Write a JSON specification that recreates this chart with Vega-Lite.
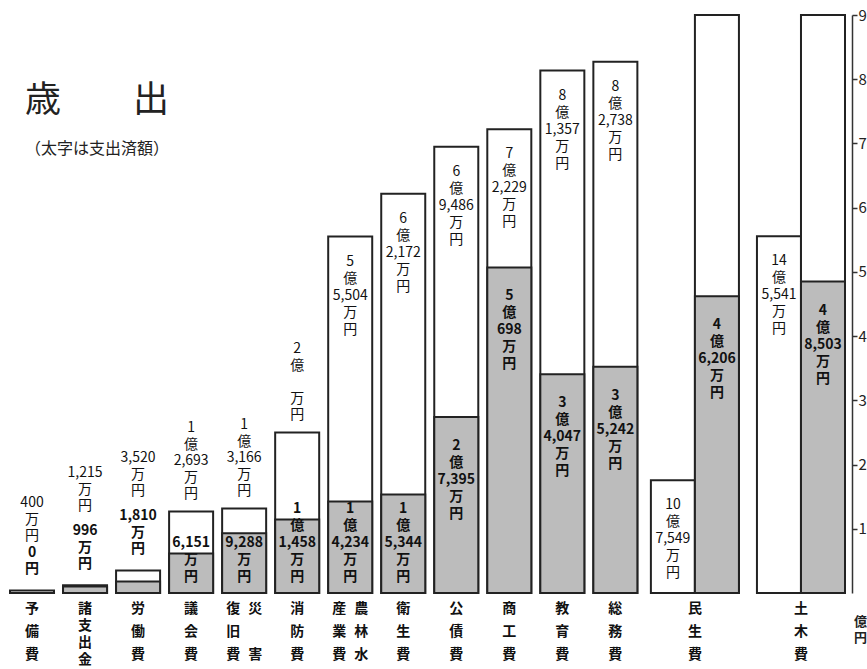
{
  "$schema": "https://vega.github.io/schema/vega-lite/v6.json",
  "width": 852,
  "height": 578,
  "autosize": "none",
  "padding": {"left": 0, "top": 15, "right": 15, "bottom": 76},
  "background": "white",
  "config": {"view": {"stroke": null}, "font": "Noto Sans CJK JP"},
  "title": {
    "text": "歳　　出",
    "subtitle": "（太字は支出済額）",
    "anchor": "start",
    "frame": "group",
    "orient": "top",
    "offset": -143,
    "dx": 25,
    "dy": 7,
    "font": "Noto Sans CJK JP",
    "fontSize": 36,
    "fontWeight": "normal",
    "color": "#222",
    "subtitleFont": "Noto Sans CJK JP",
    "subtitleFontSize": 16,
    "subtitleColor": "#222",
    "subtitlePadding": 21
  },
  "datasets": {
    "cats": [
      {"slot": "予備費", "text": "予備費", "col": "center"},
      {"slot": "諸支出金", "text": "諸支出金", "col": "center"},
      {"slot": "労働費", "text": "労働費", "col": "center"},
      {"slot": "議会費", "text": "議会費", "col": "center"},
      {"slot": "災害復旧費", "text": "災害", "col": "right"},
      {"slot": "災害復旧費", "text": "復旧費", "col": "left"},
      {"slot": "消防費", "text": "消防費", "col": "center"},
      {"slot": "農林水産業費", "text": "農林水", "col": "right"},
      {"slot": "農林水産業費", "text": "産業費", "col": "left"},
      {"slot": "衛生費", "text": "衛生費", "col": "center"},
      {"slot": "公債費", "text": "公債費", "col": "center"},
      {"slot": "商工費", "text": "商工費", "col": "center"},
      {"slot": "教育費", "text": "教育費", "col": "center"},
      {"slot": "総務費", "text": "総務費", "col": "center"},
      {"slot": "民生費(超過分)", "text": "民生費", "col": "pair"},
      {"slot": "土木費(超過分)", "text": "土木費", "col": "pair"}
    ]
  },
  "data": {
    "values": [
      {"slot": "予備費", "kind": "normal", "total": 0.04, "spent": 0, "tlab": "400万円", "slab": "0円"},
      {"slot": "諸支出金", "kind": "normal", "total": 0.1215, "spent": 0.0996, "tlab": "1,215万円", "slab": "996万円"},
      {"slot": "労働費", "kind": "normal", "total": 0.352, "spent": 0.181, "tlab": "3,520万円", "slab": "1,810万円"},
      {"slot": "議会費", "kind": "normal", "total": 1.2693, "spent": 0.6151, "tlab": "1億2,693万円", "slab": "6,151万円"},
      {"slot": "災害復旧費", "kind": "normal", "total": 1.3166, "spent": 0.9288, "tlab": "1億3,166万円", "slab": "9,288万円"},
      {"slot": "消防費", "kind": "normal", "total": 2.5, "spent": 1.1458, "tlab": "2億 万円", "slab": "1億1,458万円"},
      {"slot": "農林水産業費", "kind": "normal", "total": 5.5504, "spent": 1.4234, "tlab": "5億5,504万円", "slab": "1億4,234万円"},
      {"slot": "衛生費", "kind": "normal", "total": 6.2172, "spent": 1.5344, "tlab": "6億2,172万円", "slab": "1億5,344万円"},
      {"slot": "公債費", "kind": "normal", "total": 6.9486, "spent": 2.7395, "tlab": "6億9,486万円", "slab": "2億7,395万円"},
      {"slot": "商工費", "kind": "normal", "total": 7.2229, "spent": 5.0698, "tlab": "7億2,229万円", "slab": "5億698万円"},
      {"slot": "教育費", "kind": "normal", "total": 8.1357, "spent": 3.4047, "tlab": "8億1,357万円", "slab": "3億4,047万円"},
      {"slot": "総務費", "kind": "normal", "total": 8.2738, "spent": 3.5242, "tlab": "8億2,738万円", "slab": "3億5,242万円"},
      {"slot": "民生費(超過分)", "kind": "overflow", "total": 1.7549, "spent": null, "tlab": "10億7,549万円", "slab": null},
      {"slot": "民生費", "kind": "clipped", "total": 10.7549, "spent": 4.6206, "tlab": null, "slab": "4億6,206万円"},
      {"slot": "土木費(超過分)", "kind": "overflow", "total": 5.5541, "spent": null, "tlab": "14億5,541万円", "slab": null},
      {"slot": "土木費", "kind": "clipped", "total": 14.5541, "spent": 4.8503, "tlab": null, "slab": "4億8,503万円"}
    ]
  },
  "encoding": {
    "x": {
      "field": "slot",
      "type": "nominal",
      "axis": null,
      "scale": {
        "domain": ["予備費", "諸支出金", "労働費", "議会費", "災害復旧費", "消防費", "農林水産業費", "衛生費", "公債費", "商工費", "教育費", "総務費", "民生費(超過分)", "民生費", "土木費(超過分)", "土木費"],
        "paddingInner": 0.17,
        "paddingOuter": 0.118,
        "align": 0.8
      }
    }
  },
  "layer": [
    {
      "mark": {"type": "bar", "fill": "white", "stroke": "#222", "strokeWidth": 2, "xOffset": {"expr": "datum.kind == 'overflow' ? 4.5 : datum.kind == 'clipped' ? -4.5 : 0"}},
      "encoding": {
        "y": {
          "field": "total", "type": "quantitative",
          "scale": {"domain": [0, 9], "clamp": true, "nice": false},
          "axis": {
            "orient": "right", "values": [1, 2, 3, 4, 5, 6, 7, 8, 9], "grid": false,
            "domainColor": "#333", "domainWidth": 1.5, "tickColor": "#333", "tickWidth": 1.5, "tickSize": 5,
            "labelFontSize": 15, "labelColor": "#222", "labelPadding": 1, "labelFont": "Noto Sans CJK JP",
            "title": ["億", "円"], "titleAngle": 0, "titleFontSize": 13, "titleFontWeight": "bold", "titleColor": "#222",
            "titleX": 8, "titleY": 600, "titleAlign": "center", "titleBaseline": "top", "titleLineHeight": 16
          }
        }
      }
    },
    {
      "transform": [{"filter": "datum.spent > 0"}],
      "mark": {"type": "bar", "fill": "#bcbcbc", "stroke": "#222", "strokeWidth": 2, "xOffset": {"expr": "datum.kind == 'overflow' ? 4.5 : datum.kind == 'clipped' ? -4.5 : 0"}},
      "encoding": {"y": {"field": "spent", "type": "quantitative", "scale": {"domain": [0, 9], "clamp": true, "nice": false},
          "axis": {
            "orient": "right", "values": [1, 2, 3, 4, 5, 6, 7, 8, 9], "grid": false,
            "domainColor": "#333", "domainWidth": 1.5, "tickColor": "#333", "tickWidth": 1.5, "tickSize": 5,
            "labelFontSize": 15, "labelColor": "#222", "labelPadding": 1, "labelFont": "Noto Sans CJK JP",
            "title": ["億", "円"], "titleAngle": 0, "titleFontSize": 13, "titleFontWeight": "bold", "titleColor": "#222",
            "titleX": 8, "titleY": 600, "titleAlign": "center", "titleBaseline": "top", "titleLineHeight": 16
          }}}
    },
    {
      "transform": [{"filter": "datum.total < 0.5"}],
      "mark": {"type": "text", "baseline": "bottom", "fontSize": 14, "lineHeight": 16.5, "color": "#111",
        "dy": {"expr": "-(datum.spent == 0 ? 47 : 72) - (length(split(trim(replace(replace(datum.tlab, regexp('([億万円])','g'), '\\n$1\\n'), regexp('\\n+','g'), '\\n')), '\\n')) - 1) * 16.5"},
        "text": {"expr": "split(trim(replace(replace(datum.tlab, regexp('([億万円])','g'), '\\n$1\\n'), regexp('\\n+','g'), '\\n')), '\\n')"}},
      "encoding": {"y": {"field": "total", "type": "quantitative", "scale": {"domain": [0, 9], "clamp": true, "nice": false},
          "axis": {
            "orient": "right", "values": [1, 2, 3, 4, 5, 6, 7, 8, 9], "grid": false,
            "domainColor": "#333", "domainWidth": 1.5, "tickColor": "#333", "tickWidth": 1.5, "tickSize": 5,
            "labelFontSize": 15, "labelColor": "#222", "labelPadding": 1, "labelFont": "Noto Sans CJK JP",
            "title": ["億", "円"], "titleAngle": 0, "titleFontSize": 13, "titleFontWeight": "bold", "titleColor": "#222",
            "titleX": 8, "titleY": 600, "titleAlign": "center", "titleBaseline": "top", "titleLineHeight": 16
          }}}
    },
    {
      "transform": [{"filter": "datum.total >= 0.5 && datum.total < 3 && datum.kind == 'normal'"}],
      "mark": {"type": "text", "baseline": "bottom", "fontSize": 14, "lineHeight": 16.5, "color": "#111",
        "dy": {"expr": "-10 - (length(split(trim(replace(replace(replace(datum.tlab, ' ', '\u200b'), regexp('([億万円])','g'), '\\n$1\\n'), regexp('\\n+','g'), '\\n')), '\\n')) - 1) * 16.5"},
        "text": {"expr": "split(trim(replace(replace(replace(datum.tlab, ' ', '\u200b'), regexp('([億万円])','g'), '\\n$1\\n'), regexp('\\n+','g'), '\\n')), '\\n')"}},
      "encoding": {"y": {"field": "total", "type": "quantitative", "scale": {"domain": [0, 9], "clamp": true, "nice": false},
          "axis": {
            "orient": "right", "values": [1, 2, 3, 4, 5, 6, 7, 8, 9], "grid": false,
            "domainColor": "#333", "domainWidth": 1.5, "tickColor": "#333", "tickWidth": 1.5, "tickSize": 5,
            "labelFontSize": 15, "labelColor": "#222", "labelPadding": 1, "labelFont": "Noto Sans CJK JP",
            "title": ["億", "円"], "titleAngle": 0, "titleFontSize": 13, "titleFontWeight": "bold", "titleColor": "#222",
            "titleX": 8, "titleY": 600, "titleAlign": "center", "titleBaseline": "top", "titleLineHeight": 16
          }}}
    },
    {
      "transform": [{"filter": "isValid(datum.tlab) && (datum.total >= 3 || datum.kind == 'overflow')"}],
      "mark": {"type": "text", "baseline": "top", "fontSize": 14, "lineHeight": 17, "color": "#111", "dy": 18,
        "xOffset": {"expr": "datum.kind == 'overflow' ? 4.5 : 0"},
        "text": {"expr": "split(trim(replace(replace(datum.tlab, regexp('([億万円])','g'), '\\n$1\\n'), regexp('\\n+','g'), '\\n')), '\\n')"}},
      "encoding": {"y": {"field": "total", "type": "quantitative", "scale": {"domain": [0, 9], "clamp": true, "nice": false},
          "axis": {
            "orient": "right", "values": [1, 2, 3, 4, 5, 6, 7, 8, 9], "grid": false,
            "domainColor": "#333", "domainWidth": 1.5, "tickColor": "#333", "tickWidth": 1.5, "tickSize": 5,
            "labelFontSize": 15, "labelColor": "#222", "labelPadding": 1, "labelFont": "Noto Sans CJK JP",
            "title": ["億", "円"], "titleAngle": 0, "titleFontSize": 13, "titleFontWeight": "bold", "titleColor": "#222",
            "titleX": 8, "titleY": 600, "titleAlign": "center", "titleBaseline": "top", "titleLineHeight": 16
          }}}
    },
    {
      "transform": [{"filter": "datum.total < 0.5"}],
      "mark": {"type": "text", "baseline": "bottom", "fontSize": 14, "fontWeight": "bold", "lineHeight": 16.5, "color": "#111",
        "dy": {"expr": "-14 - (length(split(trim(replace(replace(datum.slab, regexp('([億万円])','g'), '\\n$1\\n'), regexp('\\n+','g'), '\\n')), '\\n')) - 1) * 16.5"},
        "text": {"expr": "split(trim(replace(replace(datum.slab, regexp('([億万円])','g'), '\\n$1\\n'), regexp('\\n+','g'), '\\n')), '\\n')"}},
      "encoding": {"y": {"field": "total", "type": "quantitative", "scale": {"domain": [0, 9], "clamp": true, "nice": false},
          "axis": {
            "orient": "right", "values": [1, 2, 3, 4, 5, 6, 7, 8, 9], "grid": false,
            "domainColor": "#333", "domainWidth": 1.5, "tickColor": "#333", "tickWidth": 1.5, "tickSize": 5,
            "labelFontSize": 15, "labelColor": "#222", "labelPadding": 1, "labelFont": "Noto Sans CJK JP",
            "title": ["億", "円"], "titleAngle": 0, "titleFontSize": 13, "titleFontWeight": "bold", "titleColor": "#222",
            "titleX": 8, "titleY": 600, "titleAlign": "center", "titleBaseline": "top", "titleLineHeight": 16
          }}}
    },
    {
      "transform": [{"filter": "datum.total >= 0.5 && isValid(datum.spent) && datum.spent < 2"}],
      "mark": {"type": "text", "baseline": "bottom", "fontSize": 14, "fontWeight": "bold", "lineHeight": 17, "color": "#111",
        "dy": {"expr": "-9 - (length(split(trim(replace(replace(datum.slab, regexp('([億万円])','g'), '\\n$1\\n'), regexp('\\n+','g'), '\\n')), '\\n')) - 1) * 17"},
        "text": {"expr": "split(trim(replace(replace(datum.slab, regexp('([億万円])','g'), '\\n$1\\n'), regexp('\\n+','g'), '\\n')), '\\n')"}},
      "encoding": {"y": {"datum": 0, "type": "quantitative", "scale": {"domain": [0, 9], "clamp": true, "nice": false},
          "axis": {
            "orient": "right", "values": [1, 2, 3, 4, 5, 6, 7, 8, 9], "grid": false,
            "domainColor": "#333", "domainWidth": 1.5, "tickColor": "#333", "tickWidth": 1.5, "tickSize": 5,
            "labelFontSize": 15, "labelColor": "#222", "labelPadding": 1, "labelFont": "Noto Sans CJK JP",
            "title": ["億", "円"], "titleAngle": 0, "titleFontSize": 13, "titleFontWeight": "bold", "titleColor": "#222",
            "titleX": 8, "titleY": 600, "titleAlign": "center", "titleBaseline": "top", "titleLineHeight": 16
          }}}
    },
    {
      "transform": [{"filter": "datum.spent >= 2"}],
      "mark": {"type": "text", "baseline": "top", "fontSize": 14, "fontWeight": "bold", "lineHeight": 17, "color": "#111", "dy": 22,
        "xOffset": {"expr": "datum.kind == 'clipped' ? -4.5 : 0"},
        "text": {"expr": "split(trim(replace(replace(datum.slab, regexp('([億万円])','g'), '\\n$1\\n'), regexp('\\n+','g'), '\\n')), '\\n')"}},
      "encoding": {"y": {"field": "spent", "type": "quantitative", "scale": {"domain": [0, 9], "clamp": true, "nice": false},
          "axis": {
            "orient": "right", "values": [1, 2, 3, 4, 5, 6, 7, 8, 9], "grid": false,
            "domainColor": "#333", "domainWidth": 1.5, "tickColor": "#333", "tickWidth": 1.5, "tickSize": 5,
            "labelFontSize": 15, "labelColor": "#222", "labelPadding": 1, "labelFont": "Noto Sans CJK JP",
            "title": ["億", "円"], "titleAngle": 0, "titleFontSize": 13, "titleFontWeight": "bold", "titleColor": "#222",
            "titleX": 8, "titleY": 600, "titleAlign": "center", "titleBaseline": "top", "titleLineHeight": 16
          }}}
    },
    {
      "data": {"name": "cats"},
      "mark": {"type": "text", "baseline": "top", "fontSize": 14, "fontWeight": "bold", "color": "#111", "dy": 9,
        "lineHeight": {"expr": "length(datum.text) == 2 ? 46 : length(datum.text) > 3 ? 17 : 23"},
        "xOffset": {"expr": "datum.col == 'left' ? -11 : datum.col == 'right' ? 11 : datum.col == 'pair' ? 26.5 : 0"},
        "text": {"expr": "split(datum.text, '')"}},
      "encoding": {"y": {"datum": 0, "type": "quantitative", "scale": {"domain": [0, 9], "clamp": true, "nice": false},
          "axis": {
            "orient": "right", "values": [1, 2, 3, 4, 5, 6, 7, 8, 9], "grid": false,
            "domainColor": "#333", "domainWidth": 1.5, "tickColor": "#333", "tickWidth": 1.5, "tickSize": 5,
            "labelFontSize": 15, "labelColor": "#222", "labelPadding": 1, "labelFont": "Noto Sans CJK JP",
            "title": ["億", "円"], "titleAngle": 0, "titleFontSize": 13, "titleFontWeight": "bold", "titleColor": "#222",
            "titleX": 8, "titleY": 600, "titleAlign": "center", "titleBaseline": "top", "titleLineHeight": 16
          }}}
    }
  ]
}
